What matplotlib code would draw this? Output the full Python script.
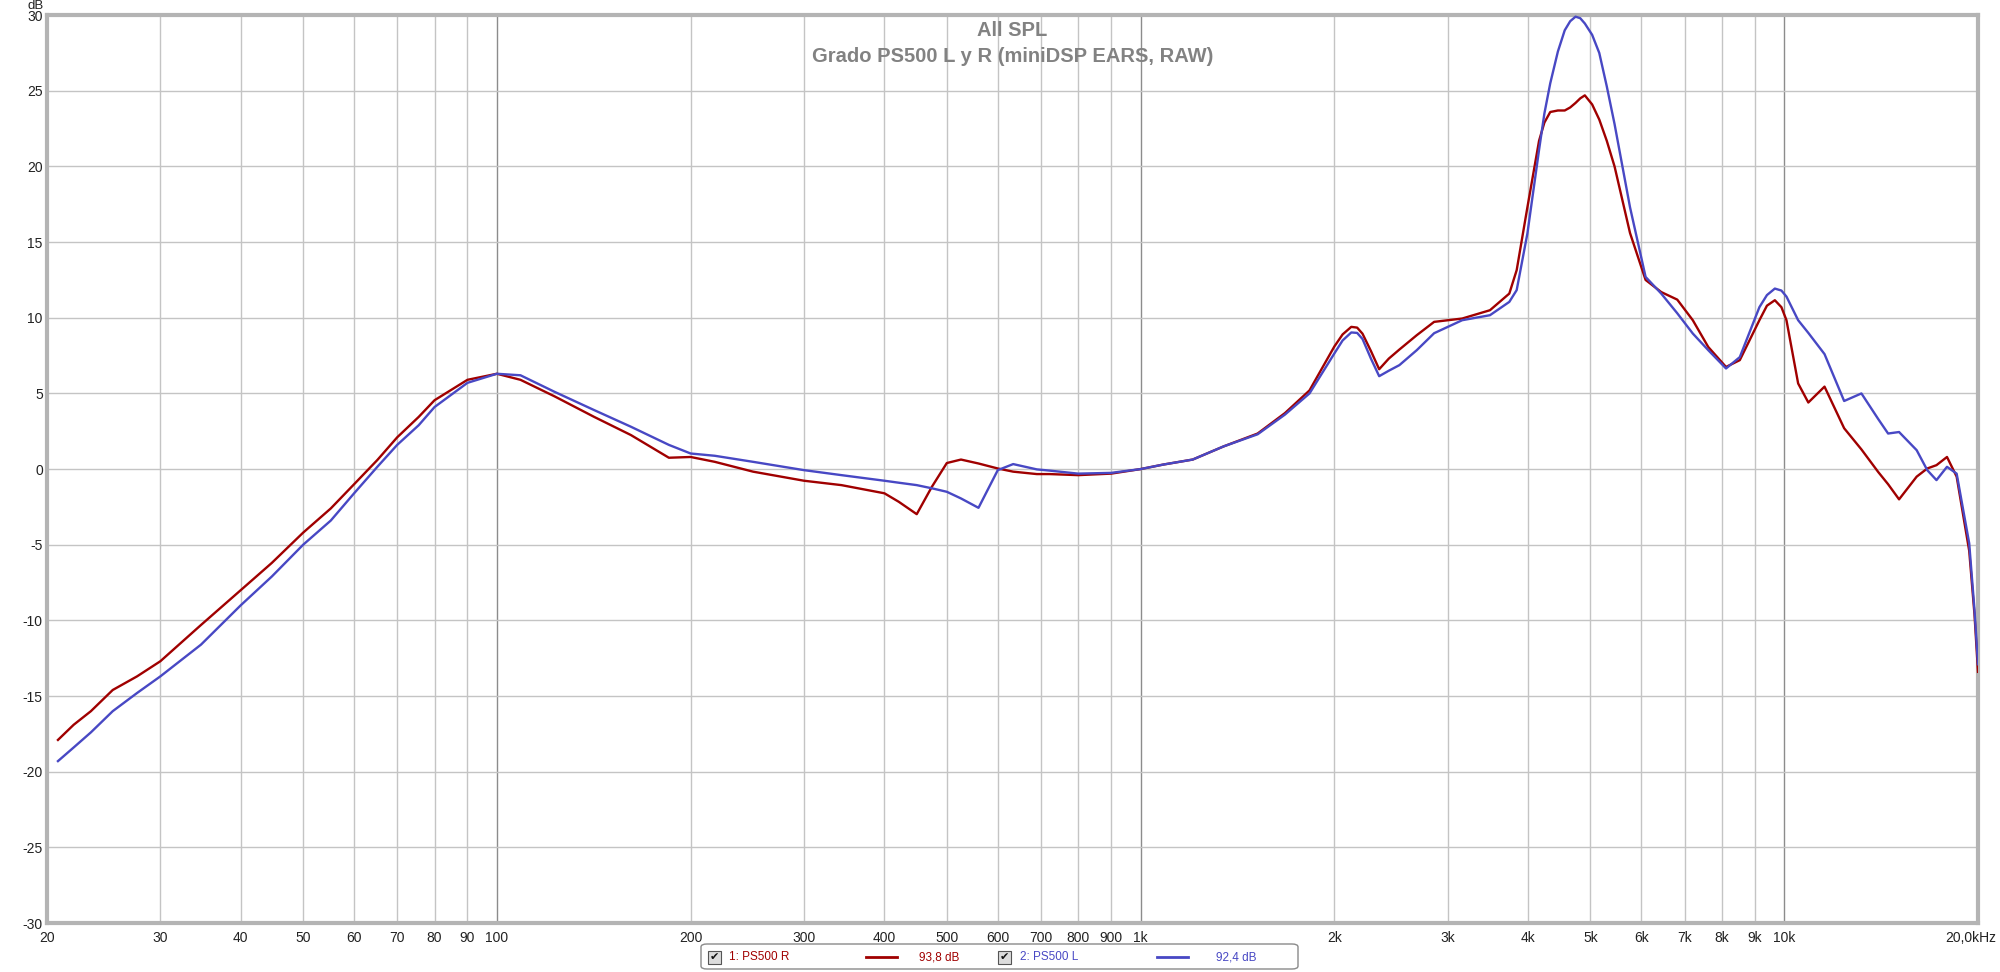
#!/usr/bin/env python3
import matplotlib
matplotlib.use("Agg")
import matplotlib.pyplot as plt
import matplotlib.transforms as mtransforms
from matplotlib.patches import FancyBboxPatch, Rectangle
from matplotlib.lines import Line2D

plt.rcParams["font.family"] = ["Liberation Sans", "DejaVu Sans"]

# Frequency points (Hz), shared by both traces
freq = [20.8, 22, 23.4, 25.3, 27.6, 30, 34.7, 40, 44.7, 50, 55.2, 60, 65.2, 70,
        75.6, 80, 90, 100, 108.8, 123, 141.6, 161.5, 185, 200, 218, 250, 300,
        343, 400, 421, 449, 474, 500, 526, 560, 600, 634, 690, 722, 800, 900,
        1000, 1085, 1205, 1346, 1520, 1676, 1830, 2000, 2060, 2125, 2170, 2212,
        2280, 2348, 2430, 2524, 2686, 2858, 3160, 3490, 3740, 3840, 3990, 4160,
        4240, 4330, 4450, 4560, 4650, 4740, 4820, 4900, 5030, 5160, 5300, 5450,
        5760, 6090, 6440, 6820, 7210, 7620, 8120, 8530, 9150, 9400, 9670, 9900,
        10080, 10510, 10900, 11550, 12390, 13180, 14000, 14500, 15080, 16060,
        16680, 17240, 17900, 18530, 19380, 19750, 20000]

# 1: PS500 R (dB)
spl_r = [-17.9, -16.9, -16.0, -14.6, -13.7, -12.7, -10.3, -8.0, -6.2, -4.2, -2.6,
         -1.0, 0.6, 2.1, 3.45, 4.55, 5.9, 6.3, 5.9, 4.8, 3.45, 2.25, 0.75, 0.8,
         0.48, -0.17, -0.77, -1.06, -1.6, -2.16, -2.98, -1.17, 0.4, 0.63, 0.37,
         0.04, -0.17, -0.33, -0.33, -0.4, -0.3, 0.0, 0.3, 0.63, 1.5, 2.35, 3.7,
         5.2, 8.1, 8.9, 9.4, 9.35, 8.95, 7.8, 6.6, 7.3, 7.9, 8.85, 9.73, 9.95,
         10.5, 11.6, 13.15, 17.3, 21.7, 22.9, 23.6, 23.7, 23.7, 23.9, 24.2, 24.5,
         24.7, 24.1, 23.1, 21.7, 20.0, 15.6, 12.5, 11.7, 11.2, 9.84, 8.07, 6.75,
         7.2, 9.84, 10.8, 11.16, 10.7, 9.84, 5.66, 4.4, 5.45, 2.7, 1.3, -0.2, -1.0,
         -2.0, -0.5, 0.04, 0.26, 0.8, -0.5, -5.4, -9.6, -13.4]

# 2: PS500 L (dB)
spl_l = [-19.3, -18.4, -17.4, -16.0, -14.8, -13.7, -11.6, -9.0, -7.1, -5.0, -3.4,
         -1.6, 0.15, 1.6, 2.9, 4.1, 5.7, 6.3, 6.2, 5.1, 3.9, 2.8, 1.6, 1.03, 0.88,
         0.48, -0.07, -0.4, -0.77, -0.9, -1.06, -1.27, -1.5, -1.94, -2.56, -0.07,
         0.33, -0.02, -0.1, -0.3, -0.25, 0.0, 0.3, 0.63, 1.5, 2.3, 3.6, 5.0, 7.64,
         8.5, 9.03, 9.0, 8.6, 7.3, 6.14, 6.5, 6.87, 7.86, 8.98, 9.84, 10.17, 11.05,
         11.83, 15.57, 21.1, 23.5, 25.5, 27.6, 29.0, 29.6, 29.9, 29.8, 29.45, 28.7,
         27.5, 25.3, 22.8, 17.3, 12.7, 11.6, 10.3, 8.96, 7.86, 6.65, 7.4, 10.7,
         11.5, 11.93, 11.8, 11.4, 9.84, 9.0, 7.6, 4.5, 5.0, 3.3, 2.35, 2.45, 1.25,
         -0.07, -0.73, 0.15, -0.3, -4.9, -9.3, -12.9]

xticks = [20, 30, 40, 50, 60, 70, 80, 90, 100, 200, 300, 400, 500, 600, 700, 800,
          900, 1000, 2000, 3000, 4000, 5000, 6000, 7000, 8000, 9000, 10000, 20000]
xlabels = ["20", "30", "40", "50", "60", "70", "80", "90", "100", "200", "300",
           "400", "500", "600", "700", "800", "900", "1k", "2k", "3k", "4k", "5k",
           "6k", "7k", "8k", "9k", "10k", "20,0kHz"]
yticks = [-30, -25, -20, -15, -10, -5, 0, 5, 10, 15, 20, 25, 30]

RED = "#a00000"
BLUE = "#4848c4"

fig = plt.figure(figsize=(20, 9.72), dpi=100)
ax = fig.add_axes([0.0235, 0.0504, 0.9655, 0.934])

ax.set_xscale("log")
ax.set_xlim(20, 20000)
ax.set_ylim(-30, 30)

# grid
for f in xticks[1:-1]:
    dark = f in (100, 1000, 10000)
    ax.axvline(f, color="#8c8c8c" if dark else "#c4c4c4", lw=1.0, zorder=0)
for y in yticks[1:-1]:
    ax.axhline(y, color="#c4c4c4", lw=1.0, zorder=0)

ax.plot(freq, spl_r, color=RED, lw=1.7, zorder=3, solid_joinstyle="round")
ax.plot(freq, spl_l, color=BLUE, lw=1.7, zorder=3, solid_joinstyle="round")

ax.set_xticks(xticks)
ax.set_xticklabels(xlabels)
ax.xaxis.set_minor_locator(matplotlib.ticker.NullLocator())
ax.set_yticks(yticks)
ax.set_yticklabels([str(v) for v in yticks])
ax.tick_params(axis="both", length=0, labelsize=10, colors="#222222")
ax.tick_params(axis="x", pad=6)
ax.tick_params(axis="y", pad=3)

# last label sits a bit left of its tick, like the original
last = ax.get_xticklabels()[-1]
last.set_transform(last.get_transform() +
                   mtransforms.ScaledTranslation(-7 / 100, 0, fig.dpi_scale_trans))

for s in ax.spines.values():
    s.set_color("#b4b4b4")
    s.set_linewidth(3)

W, H = 2000.0, 972.0
def fx(px):
    return px / W
def fy(py):
    return 1 - py / H

fig.text(fx(27), fy(9), "dB", fontsize=9.5, color="#222222", ha="left", va="baseline")

ax.text(0.5, 0.983, "All SPL", transform=ax.transAxes, ha="center", va="center",
        fontsize=14.5, fontweight="bold", color="#828282")
ax.text(0.5, 0.954, "Grado PS500 L y R (miniDSP EARS, RAW)", transform=ax.transAxes,
        ha="center", va="center", fontsize=14.5, fontweight="bold", color="#828282")

# legend box at the bottom
box = FancyBboxPatch((fx(701), fy(969)), fx(1298) - fx(701), fy(944) - fy(969),
                     boxstyle="round,pad=0,rounding_size=0.003", transform=fig.transFigure,
                     facecolor="white", edgecolor="#8a8a8a", lw=1.0)
fig.patches.append(box)

row_y = fy(957)
entries = [(708, "1: PS500 R", 729, 866, 897, "93,8 dB", 919, RED),
           (998, "2: PS500 L", 1020, 1157, 1188, "92,4 dB", 1216, BLUE)]
for cb_x, name, name_x, l0, l1, val, val_x, col in entries:
    cb = Rectangle((fx(cb_x), fy(964)), fx(13), 13 / H, transform=fig.transFigure,
                   facecolor="#dcdcdc", edgecolor="#555555", lw=0.8)
    fig.patches.append(cb)
    fig.text(fx(cb_x + 6.5), row_y, "\u2714", fontsize=8, ha="center", va="center",
             color="#111111", family="DejaVu Sans")
    fig.text(fx(name_x), row_y, name, fontsize=8.5, color=col, ha="left", va="center")
    fig.lines.append(Line2D([fx(l0), fx(l1)], [row_y, row_y], transform=fig.transFigure,
                            color=col, lw=2))
    fig.text(fx(val_x), row_y, val, fontsize=8.5, color=col, ha="left", va="center")

fig.savefig("out.png", dpi=100)
